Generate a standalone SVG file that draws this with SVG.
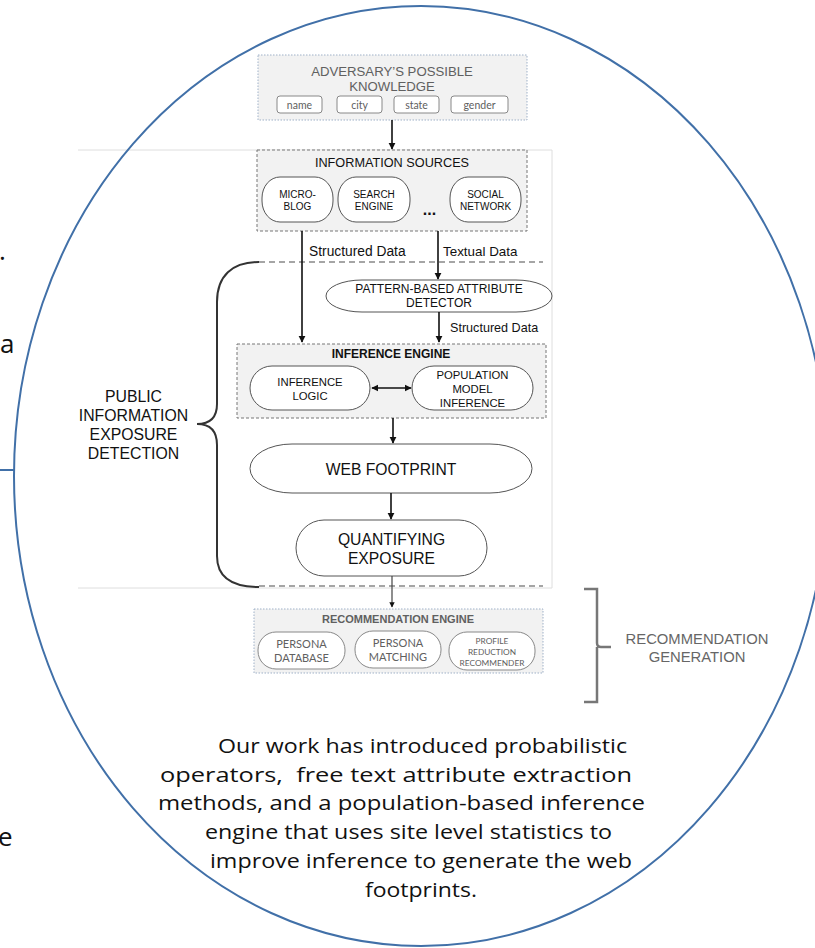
<svg xmlns="http://www.w3.org/2000/svg" width="815" height="948" viewBox="0 0 815 948">
<defs>
<marker id="ah" viewBox="0 0 10 10" refX="9" refY="5" markerWidth="4.5" markerHeight="4.5" orient="auto-start-reverse" markerUnits="strokeWidth">
<path d="M0,0 L10,5 L0,10 z" fill="#111"/>
</marker>
<style>
.sans{font-family:"Liberation Sans",Arial,sans-serif}
.cal{font-family:Lato,"Open Sans",sans-serif}
.cap{font-family:"Open Sans",Lato,sans-serif}
.node{fill:#fff;stroke:#555;stroke-width:1}
.gnode{fill:#fff;stroke:#888;stroke-width:1}
.dotbox{fill:#f2f2f2;stroke:#9fb1c8;stroke-width:1;stroke-dasharray:1.5,1.5}
.dashbox{fill:#f2f2f2;stroke:#777;stroke-width:1;stroke-dasharray:3,2}
.conn{stroke:#111;stroke-width:1.6;fill:none}
.faint{stroke:#dedede;stroke-width:1;fill:none}
.sep{stroke:#888;stroke-width:1.3;stroke-dasharray:6,4;fill:none}
.t{fill:#111}
.g{fill:#606060}
</style>
</defs>
<rect width="815" height="948" fill="#fff"/>

<!-- faint page frame -->
<path class="faint" d="M78,150 H552 V588 H78"/>

<!-- big ellipse -->
<ellipse cx="421" cy="476" rx="407" ry="470" fill="none" stroke="#4170a8" stroke-width="2"/>
<line x1="0" y1="470" x2="14" y2="470" stroke="#4170a8" stroke-width="2"/>

<!-- cut-off slide text -->
<text class="cap t" x="-1" y="260" font-size="26">.</text>
<text class="cap t" x="0" y="353" font-size="26">a</text>
<text class="cap t" x="-2" y="846" font-size="26">e</text>

<!-- Adversary's knowledge -->
<g id="adversary">
<rect class="dotbox" x="258" y="55" width="269" height="65"/>
<text class="sans g" x="392" y="76" font-size="13.2" text-anchor="middle">ADVERSARY’S POSSIBLE</text>
<text class="sans g" x="392" y="91" font-size="13.2" text-anchor="middle">KNOWLEDGE</text>
<rect class="gnode" x="277" y="96" width="45" height="17" rx="3"/>
<text class="cal g" x="299.5" y="108.5" font-size="10.5" text-anchor="middle">name</text>
<rect class="gnode" x="337" y="96" width="45" height="17" rx="3"/>
<text class="cal g" x="359.5" y="108.5" font-size="10.5" text-anchor="middle">city</text>
<rect class="gnode" x="394" y="96" width="45" height="17" rx="3"/>
<text class="cal g" x="416.5" y="108.5" font-size="10.5" text-anchor="middle">state</text>
<rect class="gnode" x="451" y="96" width="57" height="17" rx="3"/>
<text class="cal g" x="479.5" y="108.5" font-size="10.5" text-anchor="middle">gender</text>
</g>

<!-- Information sources -->
<g id="info-sources">
<rect class="dashbox" x="257" y="150" width="270" height="81" stroke-dasharray="1.5,1"/>
<text class="sans t" x="392" y="167" font-size="12.7" text-anchor="middle">INFORMATION SOURCES</text>
</g>
<g id="microblog">
<rect class="node" x="262" y="177" width="71" height="45" rx="18" ry="21"/>
<text class="sans t" x="297.5" y="198" font-size="10" text-anchor="middle">MICRO-</text>
<text class="sans t" x="297.5" y="210" font-size="10" text-anchor="middle">BLOG</text>
</g>
<g id="search-engine">
<rect class="node" x="338" y="177" width="72" height="45" rx="18" ry="21"/>
<text class="sans t" x="374" y="198" font-size="10" text-anchor="middle">SEARCH</text>
<text class="sans t" x="374" y="210" font-size="10" text-anchor="middle">ENGINE</text>
</g>
<g id="ellipsis">
<text class="sans t" x="429.5" y="215" font-size="16" font-weight="bold" text-anchor="middle">...</text>
</g>
<g id="social-network">
<rect class="node" x="450" y="177" width="71" height="45" rx="18" ry="21"/>
<text class="sans t" x="485.5" y="198" font-size="10" text-anchor="middle">SOCIAL</text>
<text class="sans t" x="485.5" y="210" font-size="10" text-anchor="middle">NETWORK</text>
</g>

<!-- Pattern-based detector -->
<g id="pattern-detector">
<rect class="node" x="326" y="280" width="226" height="32" rx="36" ry="16"/>
<text class="sans t" x="439" y="293" font-size="12" text-anchor="middle">PATTERN-BASED ATTRIBUTE</text>
<text class="sans t" x="439" y="307" font-size="12" text-anchor="middle">DETECTOR</text>
</g>

<!-- Inference engine -->
<g id="inference-engine">
<rect class="dashbox" x="237" y="344" width="309" height="74"/>
<text class="sans t" x="391" y="358" font-size="12" font-weight="bold" text-anchor="middle">INFERENCE ENGINE</text>
</g>
<g id="inference-logic">
<rect class="node" x="250" y="366" width="120" height="44" rx="22"/>
<text class="sans t" x="310" y="386" font-size="11.3" text-anchor="middle">INFERENCE</text>
<text class="sans t" x="310" y="400" font-size="11.3" text-anchor="middle">LOGIC</text>
</g>
<g id="population-model">
<rect class="node" x="412" y="366" width="121" height="44" rx="22"/>
<text class="sans t" x="472.5" y="379" font-size="11.3" text-anchor="middle">POPULATION</text>
<text class="sans t" x="472.5" y="393" font-size="11.3" text-anchor="middle">MODEL</text>
<text class="sans t" x="472.5" y="407" font-size="11.3" text-anchor="middle">INFERENCE</text>
</g>

<!-- Web footprint -->
<g id="web-footprint">
<rect class="node" x="250" y="444" width="282" height="49" rx="42" ry="24.5"/>
<text class="sans t" x="391" y="475" font-size="15.7" text-anchor="middle">WEB FOOTPRINT</text>
</g>

<!-- Quantifying exposure -->
<g id="quantifying-exposure">
<rect class="node" x="296" y="520" width="191" height="56" rx="28"/>
<text class="sans t" x="391.5" y="545" font-size="15.7" text-anchor="middle">QUANTIFYING</text>
<text class="sans t" x="391.5" y="564" font-size="15.7" text-anchor="middle">EXPOSURE</text>
</g>

<!-- Public information exposure detection label + brace -->
<g id="pied">
<path d="M259,262 C232,262 217,276 217,302 L217,404 C217,418 210,424 197,424 C210,424 217,431 217,445 L217,556 C217,576 230,587 259,587" fill="none" stroke="#333" stroke-width="2"/>
<text class="sans t" x="133.5" y="402" font-size="15.8" text-anchor="middle">PUBLIC</text>
<text class="sans t" x="133.5" y="421" font-size="15.8" text-anchor="middle">INFORMATION</text>
<text class="sans t" x="133.5" y="440" font-size="15.8" text-anchor="middle">EXPOSURE</text>
<text class="sans t" x="133.5" y="459" font-size="15.8" text-anchor="middle">DETECTION</text>
</g>

<!-- Recommendation engine -->
<g id="recommendation-engine">
<rect class="dotbox" x="254" y="609" width="289" height="64"/>
<text class="sans g" x="398" y="623" font-size="11" font-weight="bold" text-anchor="middle">RECOMMENDATION ENGINE</text>
</g>
<g id="persona-database">
<rect class="gnode" x="258" y="632" width="87" height="37" rx="18"/>
<text class="cal g" x="301.5" y="648" font-size="11" text-anchor="middle">PERSONA</text>
<text class="cal g" x="301.5" y="662" font-size="11" text-anchor="middle">DATABASE</text>
</g>
<g id="persona-matching">
<rect class="gnode" x="355" y="631" width="86" height="37" rx="18"/>
<text class="cal g" x="398" y="647" font-size="11" text-anchor="middle">PERSONA</text>
<text class="cal g" x="398" y="661" font-size="11" text-anchor="middle">MATCHING</text>
</g>
<g id="profile-reduction">
<rect class="gnode" x="449" y="632" width="86" height="38" rx="18"/>
<text class="cal g" x="492" y="644" font-size="8.3" text-anchor="middle">PROFILE</text>
<text class="cal g" x="492" y="655" font-size="8.3" text-anchor="middle">REDUCTION</text>
<text class="cal g" x="492" y="666" font-size="8.3" text-anchor="middle">RECOMMENDER</text>
</g>

<!-- Recommendation generation bracket -->
<g id="recommendation-generation">
<path d="M584,589 H597 V643 Q597,647 601,647 H611 M597,647 V702 H584" fill="none" stroke="#777" stroke-width="2.5"/>
<text class="sans" fill="#666" x="697" y="644" font-size="14.8" text-anchor="middle">RECOMMENDATION</text>
<text class="sans" fill="#666" x="697" y="662" font-size="14.8" text-anchor="middle">GENERATION</text>
</g>

<!-- connectors -->
<g id="connectors">
<path class="sep" d="M259,262 H543"/>
<path class="sep" d="M259,586 H543"/>
<line class="conn" x1="392" y1="120" x2="392" y2="149" marker-end="url(#ah)"/>
<line class="conn" x1="302" y1="231" x2="302" y2="342" marker-end="url(#ah)"/>
<line class="conn" x1="438" y1="231" x2="438" y2="279" marker-end="url(#ah)"/>
<line class="conn" x1="439" y1="312" x2="439" y2="342" marker-end="url(#ah)"/>
<line class="conn" x1="372" y1="388" x2="411" y2="388" marker-start="url(#ah)" marker-end="url(#ah)"/>
<line class="conn" x1="393" y1="418" x2="393" y2="443" marker-end="url(#ah)"/>
<line class="conn" x1="391" y1="493" x2="391" y2="519" marker-end="url(#ah)"/>
<line x1="392" y1="576" x2="392" y2="607" stroke="#444" stroke-width="1.2" marker-end="url(#ah)"/>
<text class="sans t" x="309" y="256" font-size="13.8">Structured Data</text>
<text class="sans t" x="443" y="256" font-size="13.4">Textual Data</text>
<text class="sans t" x="450" y="332" font-size="12.6">Structured Data</text>
</g>

<!-- caption -->
<g id="caption" class="cap t" font-size="19.5">
<text x="218" y="753" textLength="409" lengthAdjust="spacingAndGlyphs">Our work has introduced probabilistic</text>
<text x="160" y="782" textLength="472" lengthAdjust="spacingAndGlyphs" xml:space="preserve">operators,  free text attribute extraction</text>
<text x="158" y="810" textLength="487" lengthAdjust="spacingAndGlyphs">methods, and a population-based inference</text>
<text x="205" y="839" textLength="407" lengthAdjust="spacingAndGlyphs">engine that uses site level statistics to</text>
<text x="210" y="868" textLength="422" lengthAdjust="spacingAndGlyphs">improve inference to generate the web</text>
<text x="365" y="897" textLength="112" lengthAdjust="spacingAndGlyphs">footprints.</text>
</g>
</svg>
